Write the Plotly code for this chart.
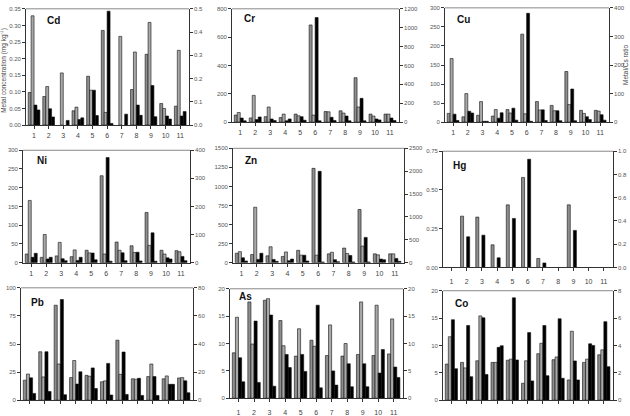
import plotly.graph_objects as go

W, H = 630, 416
sites = [str(i) for i in range(1, 12)]
xs = list(range(1, 12))

# ---- data (conc_a / conc_b : left axis, ratio_a / ratio_b : right axis) ----
cd_conc_a = [0.098, 0.086, None, 0.043, 0.147, 0.285, None, 0.107, 0.213, 0.065, 0.057]
cd_conc_b = [0.329, 0.116, 0.157, 0.054, 0.105, 0.038, 0.267, 0.220, 0.309, 0.050, 0.225]
cd_ratio_a = [0.086, 0.070, None, 0.024, 0.150, 0.490, None, 0.086, 0.170, 0.039, 0.039]
cd_ratio_b = [0.065, 0.035, 0.020, 0.031, 0.041, 0.007, 0.047, 0.042, 0.036, 0.026, 0.058]

cr_conc_a = [50, 30, 39, 32, 57, 686, 75, 80, 314, 57, 57]
cr_conc_b = [68, 189, 107, 57, 45, 50, 73, 64, 107, 43, 57]
cr_ratio_a = [44, 27, 34, 14, 58, 1108, 51, 65, 252, 34, 44]
cr_ratio_b = [14, 55, 17, 34, 20, 14, 17, 14, 14, 24, 17]

cu_conc_a = [23, 14, 18, 16, 33, 231, 54, 44, 133, 31, 31]
cu_conc_b = [167, 75, 54, 33, 24, 22, 32, 30, 46, 23, 29]
cu_ratio_a = [28, 38, 3, 14, 49, 381, 43, 40, 116, 19, 26]
cu_ratio_b = [6, 32, 3, 33, 7, 3, 6, 5, 5, 9, 7]

ni_conc_a = [23, 14, 18, 16, 33, 232, 55, 45, 134, 33, 32]
ni_conc_b = [166, 75, 54, 34, 26, 23, 33, 27, 46, 23, 29]
ni_ratio_a = [19, 13, 14, 8, 34, 374, 35, 37, 106, 17, 22]
ni_ratio_b = [33, 19, 7, 19, 10, 5, 7, 6, 5, 13, 7]

zn_conc_a = [123, 106, 89, 81, 161, 1237, 115, 191, 697, 115, 115]
zn_conc_b = [144, 727, 208, 140, 98, 98, 136, 119, 217, 102, 115]
zn_ratio_a = [106, 71, 71, 42, 163, 1997, 64, 156, 552, 78, 92]
zn_ratio_b = [35, 205, 28, 78, 35, 14, 21, 14, 14, 64, 28]

hg_conc_a = [None, 0.331, 0.325, 0.146, 0.404, 0.581, 0.058, None, 0.404, None, None]
hg_conc_b = [None] * 11
hg_ratio_a = [None, 0.264, 0.278, 0.083, 0.422, 0.931, 0.039, None, 0.319, None, None]
hg_ratio_b = [None] * 11

pb_conc_a = [17.8, 43.1, 84.5, 20.1, 22.1, 16.4, 53.4, 19.0, 21.0, 19.0, 19.8]
pb_conc_b = [23.3, 20.7, 32.2, 35.3, 21.3, 17.2, 23.0, 18.7, 32.2, 21.6, 20.1]
pb_ratio_a = [15.9, 34.5, 71.7, 11.5, 23.0, 26.2, 34.3, 15.6, 16.8, 11.3, 13.8]
pb_ratio_b = [4.8, 6.2, 3.9, 20.2, 8.3, 3.7, 4.1, 3.4, 3.4, 11.3, 5.3]

as_conc_a = [8.3, 17.6, 17.9, 14.2, 7.7, 10.6, 7.8, 7.7, 8.0, 7.8, 8.1]
as_conc_b = [14.8, 9.9, 18.2, 9.6, 12.7, 9.5, 13.4, 10.0, 17.6, 17.0, 14.5]
as_ratio_a = [7.4, 14.1, 15.2, 8.0, 8.0, 17.0, 5.0, 6.3, 6.3, 4.6, 5.7]
as_ratio_b = [3.0, 2.9, 2.2, 5.6, 4.9, 1.9, 2.4, 2.1, 2.1, 8.9, 3.8]

co_conc_a = [6.6, 6.9, 7.2, 6.9, 7.3, 3.1, 8.5, 7.4, 3.7, 6.9, 8.3]
co_conc_b = [11.6, 5.9, 15.4, 6.9, 7.5, 7.2, 10.4, 7.9, 12.6, 7.5, 9.2]
co_ratio_a = [5.88, 5.46, 6.02, 3.86, 7.48, 4.94, 5.46, 5.95, 2.87, 4.12, 5.74]
co_ratio_b = [2.30, 1.72, 1.88, 3.98, 2.94, 1.41, 1.79, 1.60, 1.48, 4.00, 2.45]

# name, data, left range/dtick/format, right range/dtick/format, box px (x0,x1,y0,y1), label px, show x labels
panels = [
    ("Cd", (cd_conc_a, cd_conc_b, cd_ratio_a, cd_ratio_b), (0.35, 0.05, ".2f"), (0.5, 0.1, ".1f"), (26, 189, 6, 126), (45, 18), True),
    ("Cr", (cr_conc_a, cr_conc_b, cr_ratio_a, cr_ratio_b), (800, 200, "d"), (1200, 200, "d"), (232, 399, 6, 123), (242, 16), True),
    ("Cu", (cu_conc_a, cu_conc_b, cu_ratio_a, cu_ratio_b), (300, 50, "d"), (400, 100, "d"), (445, 609, 5, 123), (455, 17), True),
    ("Ni", (ni_conc_a, ni_conc_b, ni_ratio_a, ni_ratio_b), (300, 50, "d"), (400, 100, "d"), (23, 190, 152, 268), (35, 163), True),
    ("Zn", (zn_conc_a, zn_conc_b, zn_ratio_a, zn_ratio_b), (1500, 250, "d"), (2500, 500, "d"), (233, 404, 150, 268), (243, 163), True),
    ("Hg", (hg_conc_a, hg_conc_b, hg_ratio_a, hg_ratio_b), (0.75, 0.25, ".2f"), (1.0, 0.2, ".1f"), (443, 613, 153, 273), (451, 168), True),
    ("Pb", (pb_conc_a, pb_conc_b, pb_ratio_a, pb_ratio_b), (100, 25, "d"), (80, 20, "d"), (21, 193, 294, 410), (29, 309), False),
    ("As", (as_conc_a, as_conc_b, as_ratio_a, as_ratio_b), (20, 5, "d"), (20, 5, "d"), (230, 403, 295, 408), (237, 303), True),
    ("Co", (co_conc_a, co_conc_b, co_ratio_a, co_ratio_b), (20, 5, "d"), (8, 2, "d"), (443, 613, 297, 410), (453, 310), False),
]

bar_w = 0.2
offsets = [-0.4, -0.2, 0.0, 0.2]
colors = ["#8e8e8e", "#a9a9a9", "#000000", "#000000"]

FONT = "Liberation Sans, Arial, sans-serif"
tickfont = dict(family=FONT, size=6, color="#555")

fig = go.Figure()
layout = dict(
    width=W, height=H, margin=dict(l=0, r=0, t=0, b=0),
    paper_bgcolor="white", plot_bgcolor="white",
    showlegend=False, barmode="overlay", font=dict(family=FONT),
    annotations=[], shapes=[],
)

for k, (name, series, left, right, box, lab, showx) in enumerate(panels):
    xn = k + 1
    yl = 2 * k + 1
    yr = 2 * k + 2
    xname = "x" if xn == 1 else f"x{xn}"
    ylname = "y" if yl == 1 else f"y{yl}"
    yrname = f"y{yr}"
    x0, x1, y0, y1 = box
    dx = [x0 / W, x1 / W]
    dy = [1 - y1 / H, 1 - y0 / H]
    for j, vals in enumerate(series):
        fig.add_trace(go.Bar(
            x=xs, y=vals, xaxis=xname, yaxis=(ylname if j < 2 else yrname),
            width=bar_w, offset=offsets[j],
            marker=dict(color=colors[j], line=dict(color="#111", width=0.6)),
        ))
    layout["xaxis" if xn == 1 else f"xaxis{xn}"] = dict(
        domain=dx, anchor=ylname, range=[0.45, 11.6],
        tickvals=xs, ticktext=sites, ticks="outside", ticklen=3, tickwidth=0.8,
        tickcolor="#333", showline=True, linecolor="#333", linewidth=0.8,
        showgrid=False, zeroline=False, tickfont=dict(family=FONT, size=7, color="#444"),
        showticklabels=showx, ticklabelstandoff=(4 if name in ("As", "Hg") else 1),
        fixedrange=True,
    )
    layout["yaxis" if yl == 1 else f"yaxis{yl}"] = dict(
        domain=dy, anchor=xname, range=[0, left[0]], dtick=left[1], tick0=0,
        tickformat=left[2], ticks="outside", ticklen=3, tickwidth=0.8, tickcolor="#333",
        showline=True, linecolor="#333", linewidth=0.8, showgrid=False, zeroline=False,
        tickfont=tickfont, fixedrange=True,
    )
    layout[f"yaxis{yr}"] = dict(
        domain=dy, anchor=xname, overlaying=ylname, side="right",
        range=[0, right[0]], dtick=right[1], tick0=0, tickformat=right[2],
        ticks="outside", ticklen=3, tickwidth=0.8, tickcolor="#333",
        showline=True, linecolor="#333", linewidth=0.8, showgrid=False, zeroline=False,
        tickfont=tickfont, fixedrange=True,
    )
    # top frame line
    layout["shapes"].append(dict(
        type="line", xref=f"{xname} domain", yref=f"{ylname} domain",
        x0=0, x1=1, y0=1, y1=1, line=dict(color="#888", width=1),
    ))
    layout["annotations"].append(dict(
        text=f"<b>{name}</b>", xref="paper", yref="paper",
        x=lab[0] / W, y=1 - lab[1] / H, xanchor="left", yanchor="middle",
        showarrow=False, font=dict(family=FONT, size=10, color="#111"),
    ))

layout["annotations"].append(dict(
    text="Metal concentration (mg kg<sup>-1</sup>)", xref="paper", yref="paper",
    x=4 / W, y=1 - 70 / H, xanchor="center", yanchor="middle", textangle=-90,
    showarrow=False, font=dict(family=FONT, size=6.5, color="#444"),
))
layout["annotations"].append(dict(
    text="Metal/Cs ratio", xref="paper", yref="paper",
    x=625 / W, y=1 - 64 / H, xanchor="center", yanchor="middle", textangle=-90,
    showarrow=False, font=dict(family=FONT, size=6.5, color="#444"),
))

fig.update_layout(**layout)
fig.write_html("out.html")
